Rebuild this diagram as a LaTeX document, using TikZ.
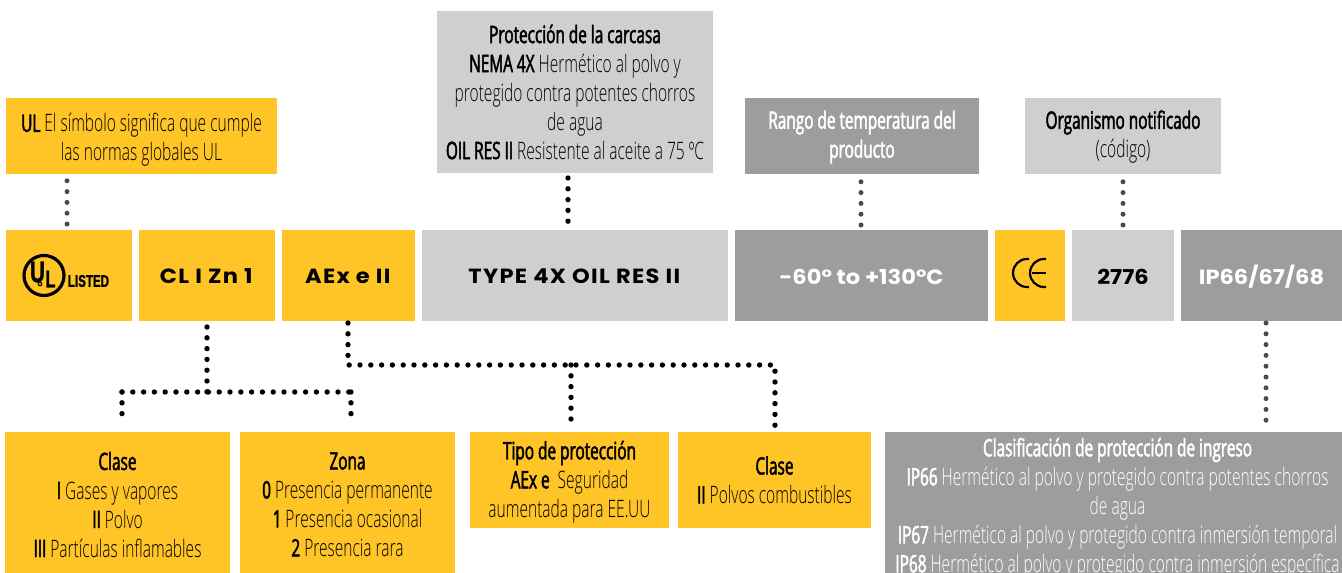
\documentclass[tikz,border=0pt]{standalone}
\usepackage{fontspec}
\setmainfont{Open Sans Light}[FakeStretch=0.647,BoldFont={Open Sans},BoldFeatures={FakeStretch=0.64,FakeBold=2}]
\newfontfamily\wide{Poppins}[FakeStretch=1.1]
\newfontfamily\widespaced{Poppins}[FakeStretch=1.1,LetterSpace=6.5]
\newfontfamily\logofont{Liberation Sans Bold}[FakeStretch=0.68,FakeBold=1]
\usetikzlibrary{calc}
\definecolor{amber}{HTML}{FFC425}
\definecolor{lgrey}{HTML}{CFCFCF}
\definecolor{dgrey}{HTML}{9D9D9C}
\definecolor{dotgrey}{HTML}{4A4A4A}
\tikzset{
 x=1pt,y=-1pt,
 box/.style={draw=none,inner sep=0pt,align=center,font=\fontsize{24}{29}\selectfont},
 yel/.style={box,fill=amber,text=black},
 lg/.style={box,fill=lgrey,text=black},
 dg/.style={box,fill=dgrey,text=white},
 code/.style={yshift=-1pt,font=\wide\bfseries\fontsize{20.5}{24}\selectfont},
 codewide/.style={yshift=-1pt,font=\widespaced\bfseries\fontsize{20.5}{24}\selectfont},
 logotext/.style={inner sep=0pt,text=black},
 dotline/.style={line cap=round,dash pattern=on 0pt off 10.8pt},
 black dots/.style={dotline,line width=5.4pt,draw=black},
 grey dots/.style={dotline,line width=5pt,draw=dotgrey}
}
% [text options]{style}{name}{x0}{x1}{y0}{y1}{text}
\newcommand{\bx}[8][]{%
 \node[#2,minimum width=#5-#4,minimum height=#7-#6] (#3) at ({(#4+#5)/2},{(#6+#7)/2}) {};
 \node[#2,fill=none,#1] (#3text) at (#3.center) {#8};}
\begin{document}
\begin{tikzpicture}
\useasboundingbox (0,0) rectangle (1342,573);
% top row
\bx[yshift=-4pt]{yel}{ultop}{6}{277}{98}{174}{\textbf{UL} El símbolo significa que cumple\\las normas globales UL}
\bx{lg}{prot}{437}{713}{11}{173}{\textbf{Protección de la carcasa}\\\textbf{NEMA 4X} Hermético al polvo y\\protegido contra potentes chorros\\de agua\\\textbf{OIL RES II} Resistente al aceite a 75 ºC}
\bx[yshift=-1pt]{dg}{rango}{745}{979}{98}{174}{\textbf{Rango de temperatura del}\\\textbf{producto}}
\bx[yshift=-1pt]{lg}{org}{1025}{1221}{98}{174}{\textbf{Organismo notificado}\\(código)}
% middle row
\bx{yel}{ulrow}{6}{132}{230}{321}{}
\bx[codewide]{yel}{cl}{139}{275}{230}{321}{\textbf{CL I Zn 1}}
\bx[codewide]{yel}{aex}{282}{415}{230}{321}{\textbf{AEx e II}}
\bx[codewide]{lg}{type}{422}{728}{230}{321}{\textbf{TYPE 4X OIL RES II}}
\bx[code]{dg}{temp}{735}{988}{230}{321}{\textbf{-60° to +130°C}}
\bx{yel}{ce}{995}{1065}{230}{321}{}
\bx[code]{lg}{num}{1072}{1174}{230}{321}{\textbf{2776}}
\bx[code]{dg}{ip}{1181}{1342}{230}{321}{\textbf{IP66/67/68}}
% bottom row
\bx[yshift=-2pt]{yel}{clase}{5}{230}{432}{573}{\textbf{Clase}\\\textbf{I} Gases y vapores\\\textbf{II} Polvo\\\textbf{III} Partículas inflamables}
\bx[yshift=-2pt]{yel}{zona}{240}{455}{432}{573}{\textbf{Zona}\\\textbf{0} Presencia permanente\\\textbf{1} Presencia ocasional\\\textbf{2} Presencia rara}
\bx[yshift=-2pt]{yel}{tipo}{470}{669}{432}{528}{\textbf{Tipo de protección}\\\textbf{AEx e}\ \ Seguridad\\aumentada para EE.UU}
\bx{yel}{clasedos}{678}{871}{432}{528}{\textbf{Clase}\\\textbf{II} Polvos combustibles}
\bx[xshift=4pt,yshift=-5.5pt]{dg}{clasif}{885}{1342}{432}{573}{\textbf{Clasificación de protección de ingreso}\\\textbf{IP66} Hermético al polvo y protegido contra potentes chorros\\de agua\\\textbf{IP67} Hermético al polvo y protegido contra inmersión temporal\\\textbf{IP68} Hermético al polvo y protegido contra inmersión específica}
% UL logo
\draw[line width=3.2pt,black] (44,275.5) circle (20);
\node[logotext,font=\logofont\fontsize{30}{30}\selectfont] (ulu) at (37.5,272) {U};
\node[logotext,font=\logofont\fontsize{24}{24}\selectfont] (ull) at (50.5,279) {L};
\node[logotext,font=\logofont\fontsize{17}{17}\selectfont] (listed) at (88.5,281) {LISTED};
\draw[line width=.8pt,black,fill=amber!70!black] (40,284) circle (2);
% CE mark
\draw[line width=2.2pt,black] (1029,287) -- (1027,287) arc (90:270:14) -- (1029,259);
\draw[line width=2.2pt,black] (1046,287) -- (1044,287) arc (90:270:14) -- (1046,259);
\draw[line width=1.8pt,black] (1032,273) -- (1046,273);
% connectors
\coordinate (jcl) at (207,392);
\coordinate (jclase) at (122,392);
\coordinate (jzona) at (351,392);
\coordinate (jaex) at (348,365);
\coordinate (jprot) at (571,365);
\coordinate (jclasedos) at (775,365);
\draw[grey dots] (67,224) -- (67,178);
\draw[black dots] (568,178) -- (568,225);
\draw[grey dots] (861,225) -- (861,178);
\draw[grey dots] (1123,225) -- (1123,178);
\draw[black dots] (207,327) -- (jcl);
\draw[black dots] (jclase) -- (jzona);
\draw[black dots] (jclase) -- (122,422);
\draw[black dots] (jzona) -- (351,422);
\draw[black dots] (348,323) -- (jaex) -- (jclasedos) -- (775,427);
\draw[black dots] (jprot) -- (571,427);
\draw[grey dots] (1266,323) -- (1266,427);
\end{tikzpicture}
\end{document}
